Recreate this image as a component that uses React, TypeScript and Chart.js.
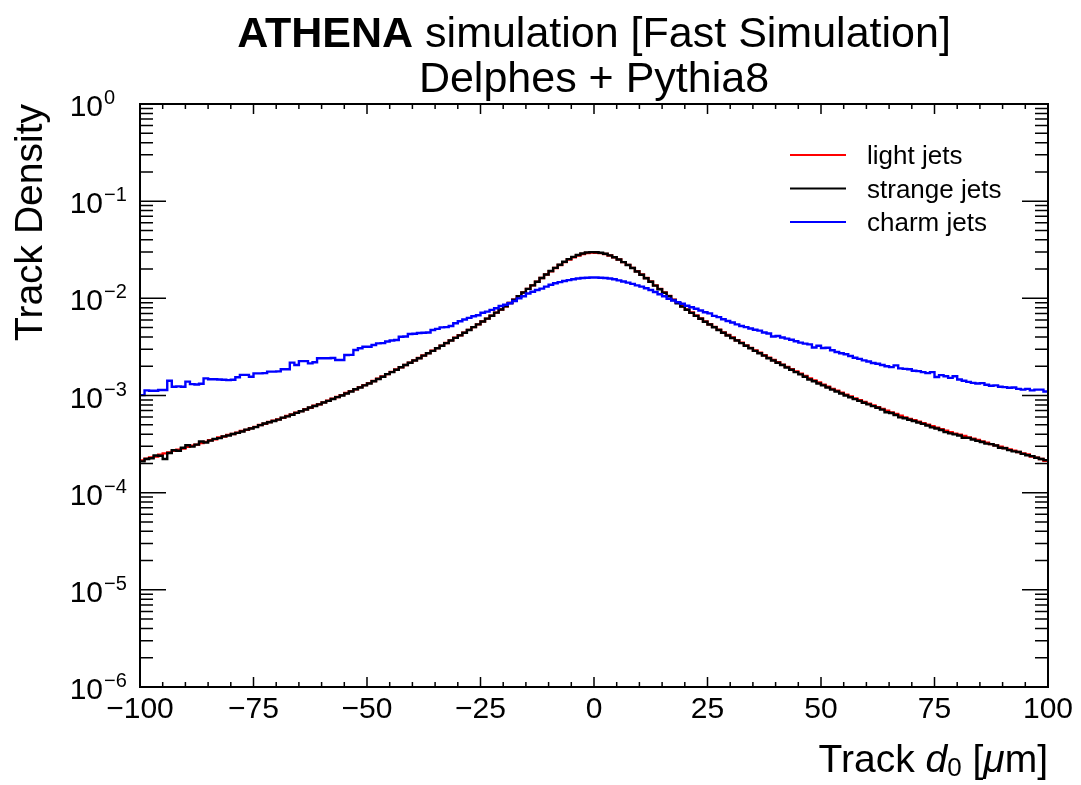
import { useEffect, useRef } from 'react';
import { Chart, registerables } from 'chart.js';

Chart.register(...registerables);

// Histogram binning: 200 bins of 1 µm between -100 and 100 µm
const X_MIN = -100;
const X_MAX = 100;
const BIN_WIDTH = 1;
const Y_MIN = 1e-6;
const Y_MAX = 1;

const X_MAJOR_TICKS = [-100, -75, -50, -25, 0, 25, 50, 75, 100];
const X_TICK_LABELS = ['\u2212100', '\u221275', '\u221250', '\u221225', '0', '25', '50', '75', '100'];
const X_MINOR_STEP = 5;
const Y_DECADES = [0, -1, -2, -3, -4, -5, -6];
const Y_DECADE_LABELS = ['0', '\u22121', '\u22122', '\u22123', '\u22124', '\u22125', '\u22126'];

const TITLE_BOLD = 'ATHENA';
const TITLE_REST = ' simulation [Fast Simulation]';
const SUBTITLE = 'Delphes + Pythia8';
const Y_TITLE = 'Track Density';

const SERIES_NAMES = ['light jets', 'strange jets', 'charm jets'];
const SERIES_COLORS = ['#ff0000', '#000000', '#0000ff'];

// Track density per bin, from d0 = -99.5 µm to +99.5 µm (bin centres)
const LIGHT_JETS = [
  2.15e-4, 2.24e-4, 2.31e-4, 2.36e-4, 2.46e-4, 2.54e-4, 2.59e-4, 2.69e-4, 2.77e-4, 2.84e-4,
  2.96e-4, 3.05e-4, 3.12e-4, 3.25e-4, 3.33e-4, 3.46e-4, 3.55e-4, 3.69e-4, 3.78e-4, 3.93e-4,
  4.02e-4, 4.13e-4, 4.31e-4, 4.43e-4, 4.62e-4, 4.76e-4, 4.97e-4, 5.12e-4, 5.34e-4, 5.50e-4,
  5.68e-4, 5.88e-4, 6.15e-4, 6.37e-4, 6.66e-4, 6.90e-4, 7.22e-4, 7.49e-4, 7.83e-4, 8.12e-4,
  8.50e-4, 8.84e-4, 9.27e-4, 9.64e-4, 1.01e-3, 1.06e-3, 1.11e-3, 1.16e-3, 1.22e-3, 1.28e-3,
  1.34e-3, 1.41e-3, 1.49e-3, 1.57e-3, 1.66e-3, 1.75e-3, 1.85e-3, 1.95e-3, 2.06e-3, 2.18e-3,
  2.30e-3, 2.43e-3, 2.58e-3, 2.73e-3, 2.89e-3, 3.07e-3, 3.26e-3, 3.47e-3, 3.69e-3, 3.93e-3,
  4.17e-3, 4.44e-3, 4.74e-3, 5.06e-3, 5.40e-3, 5.77e-3, 6.18e-3, 6.63e-3, 7.12e-3, 7.67e-3,
  8.27e-3, 8.95e-3, 9.68e-3, 1.05e-2, 1.15e-2, 1.25e-2, 1.36e-2, 1.48e-2, 1.62e-2, 1.76e-2,
  1.90e-2, 2.05e-2, 2.20e-2, 2.36e-2, 2.51e-2, 2.64e-2, 2.76e-2, 2.86e-2, 2.93e-2, 2.96e-2,
  2.95e-2, 2.92e-2, 2.86e-2, 2.76e-2, 2.64e-2, 2.51e-2, 2.36e-2, 2.21e-2, 2.06e-2, 1.90e-2,
  1.76e-2, 1.62e-2, 1.49e-2, 1.36e-2, 1.25e-2, 1.15e-2, 1.06e-2, 9.70e-3, 8.97e-3, 8.29e-3,
  7.69e-3, 7.14e-3, 6.65e-3, 6.20e-3, 5.79e-3, 5.42e-3, 5.08e-3, 4.76e-3, 4.46e-3, 4.19e-3,
  3.95e-3, 3.71e-3, 3.49e-3, 3.28e-3, 3.09e-3, 2.91e-3, 2.75e-3, 2.60e-3, 2.45e-3, 2.32e-3,
  2.20e-3, 2.08e-3, 1.97e-3, 1.87e-3, 1.77e-3, 1.68e-3, 1.59e-3, 1.50e-3, 1.43e-3, 1.36e-3,
  1.29e-3, 1.23e-3, 1.17e-3, 1.12e-3, 1.07e-3, 1.02e-3, 9.76e-4, 9.34e-4, 8.95e-4, 8.57e-4,
  8.23e-4, 7.90e-4, 7.58e-4, 7.28e-4, 6.99e-4, 6.71e-4, 6.45e-4, 6.20e-4, 5.96e-4, 5.73e-4,
  5.56e-4, 5.37e-4, 5.18e-4, 5.00e-4, 4.82e-4, 4.65e-4, 4.49e-4, 4.34e-4, 4.19e-4, 4.04e-4,
  3.95e-4, 3.83e-4, 3.71e-4, 3.60e-4, 3.48e-4, 3.37e-4, 3.26e-4, 3.16e-4, 3.07e-4, 2.97e-4,
  2.88e-4, 2.79e-4, 2.70e-4, 2.62e-4, 2.54e-4, 2.47e-4, 2.36e-4, 2.29e-4, 2.22e-4, 2.13e-4,
];

const STRANGE_JETS = [
  2.10e-4, 2.22e-4, 2.26e-4, 2.41e-4, 2.40e-4, 2.22e-4, 2.56e-4, 2.73e-4, 2.70e-4, 2.90e-4,
  3.08e-4, 2.98e-4, 3.12e-4, 3.36e-4, 3.28e-4, 3.43e-4, 3.58e-4, 3.64e-4, 3.80e-4, 3.87e-4,
  4.01e-4, 4.12e-4, 4.26e-4, 4.45e-4, 4.58e-4, 4.73e-4, 4.95e-4, 5.15e-4, 5.30e-4, 5.47e-4,
  5.65e-4, 5.92e-4, 6.10e-4, 6.33e-4, 6.62e-4, 6.88e-4, 7.17e-4, 7.52e-4, 7.79e-4, 8.10e-4,
  8.46e-4, 8.80e-4, 9.20e-4, 9.62e-4, 1.00e-3, 1.05e-3, 1.10e-3, 1.16e-3, 1.21e-3, 1.27e-3,
  1.33e-3, 1.40e-3, 1.48e-3, 1.56e-3, 1.66e-3, 1.74e-3, 1.84e-3, 1.95e-3, 2.06e-3, 2.17e-3,
  2.29e-3, 2.42e-3, 2.57e-3, 2.72e-3, 2.88e-3, 3.06e-3, 3.25e-3, 3.46e-3, 3.68e-3, 3.92e-3,
  4.16e-3, 4.43e-3, 4.73e-3, 5.05e-3, 5.39e-3, 5.77e-3, 6.18e-3, 6.63e-3, 7.12e-3, 7.67e-3,
  8.27e-3, 8.96e-3, 9.70e-3, 1.05e-2, 1.15e-2, 1.25e-2, 1.36e-2, 1.48e-2, 1.62e-2, 1.76e-2,
  1.91e-2, 2.06e-2, 2.22e-2, 2.38e-2, 2.53e-2, 2.67e-2, 2.79e-2, 2.89e-2, 2.96e-2, 2.99e-2,
  2.98e-2, 2.95e-2, 2.88e-2, 2.77e-2, 2.65e-2, 2.51e-2, 2.36e-2, 2.20e-2, 2.05e-2, 1.89e-2,
  1.75e-2, 1.61e-2, 1.48e-2, 1.35e-2, 1.24e-2, 1.14e-2, 1.05e-2, 9.62e-3, 8.90e-3, 8.22e-3,
  7.63e-3, 7.09e-3, 6.60e-3, 6.16e-3, 5.75e-3, 5.38e-3, 5.04e-3, 4.72e-3, 4.42e-3, 4.15e-3,
  3.91e-3, 3.68e-3, 3.46e-3, 3.25e-3, 3.06e-3, 2.88e-3, 2.72e-3, 2.57e-3, 2.42e-3, 2.29e-3,
  2.17e-3, 2.06e-3, 1.94e-3, 1.84e-3, 1.74e-3, 1.65e-3, 1.56e-3, 1.46e-3, 1.40e-3, 1.33e-3,
  1.27e-3, 1.21e-3, 1.15e-3, 1.10e-3, 1.05e-3, 1.00e-3, 9.60e-4, 9.18e-4, 8.80e-4, 8.43e-4,
  8.10e-4, 7.78e-4, 7.47e-4, 7.16e-4, 6.72e-4, 6.60e-4, 6.30e-4, 5.95e-4, 5.84e-4, 5.62e-4,
  5.47e-4, 5.28e-4, 5.10e-4, 4.92e-4, 4.70e-4, 4.57e-4, 4.41e-4, 4.20e-4, 4.08e-4, 3.98e-4,
  3.88e-4, 3.68e-4, 3.66e-4, 3.52e-4, 3.41e-4, 3.32e-4, 3.20e-4, 3.16e-4, 3.06e-4, 2.90e-4,
  2.86e-4, 2.74e-4, 2.66e-4, 2.62e-4, 2.51e-4, 2.43e-4, 2.38e-4, 2.29e-4, 2.22e-4, 2.16e-4,
];

const CHARM_JETS = [
  1.01e-3, 1.13e-3, 1.12e-3, 1.12e-3, 1.14e-3, 1.14e-3, 1.42e-3, 1.23e-3, 1.24e-3, 1.23e-3,
  1.39e-3, 1.31e-3, 1.30e-3, 1.32e-3, 1.50e-3, 1.47e-3, 1.47e-3, 1.46e-3, 1.45e-3, 1.44e-3,
  1.45e-3, 1.54e-3, 1.63e-3, 1.63e-3, 1.56e-3, 1.69e-3, 1.69e-3, 1.70e-3, 1.76e-3, 1.76e-3,
  1.77e-3, 1.86e-3, 1.86e-3, 2.18e-3, 2.06e-3, 2.26e-3, 2.26e-3, 2.14e-3, 2.20e-3, 2.42e-3,
  2.42e-3, 2.42e-3, 2.43e-3, 2.32e-3, 2.32e-3, 2.61e-3, 2.62e-3, 2.94e-3, 3.06e-3, 3.18e-3,
  3.18e-3, 3.31e-3, 3.44e-3, 3.46e-3, 3.60e-3, 3.68e-3, 3.73e-3, 4.03e-3, 4.05e-3, 4.30e-3,
  4.32e-3, 4.40e-3, 4.43e-3, 4.45e-3, 4.72e-3, 4.85e-3, 5.03e-3, 5.05e-3, 5.19e-3, 5.55e-3,
  5.80e-3, 6.05e-3, 6.30e-3, 6.55e-3, 6.70e-3, 7.10e-3, 7.30e-3, 7.60e-3, 7.90e-3, 8.35e-3,
  8.60e-3, 8.90e-3, 9.40e-3, 1.00e-2, 1.05e-2, 1.12e-2, 1.17e-2, 1.22e-2, 1.26e-2, 1.32e-2,
  1.38e-2, 1.43e-2, 1.47e-2, 1.51e-2, 1.54e-2, 1.57e-2, 1.60e-2, 1.62e-2, 1.63e-2, 1.64e-2,
  1.64e-2, 1.63e-2, 1.62e-2, 1.60e-2, 1.57e-2, 1.53e-2, 1.49e-2, 1.45e-2, 1.41e-2, 1.36e-2,
  1.32e-2, 1.27e-2, 1.22e-2, 1.16e-2, 1.10e-2, 1.05e-2, 9.90e-3, 9.50e-3, 9.10e-3, 8.80e-3,
  8.40e-3, 8.10e-3, 7.80e-3, 7.50e-3, 7.20e-3, 7.00e-3, 6.60e-3, 6.40e-3, 6.10e-3, 5.85e-3,
  5.65e-3, 5.40e-3, 5.20e-3, 5.05e-3, 4.90e-3, 4.75e-3, 4.65e-3, 4.45e-3, 4.35e-3, 4.05e-3,
  4.10e-3, 3.95e-3, 3.85e-3, 3.75e-3, 3.62e-3, 3.50e-3, 3.42e-3, 3.36e-3, 3.12e-3, 3.25e-3,
  3.08e-3, 3.10e-3, 2.92e-3, 2.80e-3, 2.72e-3, 2.66e-3, 2.55e-3, 2.45e-3, 2.38e-3, 2.30e-3,
  2.24e-3, 2.16e-3, 2.12e-3, 2.06e-3, 2.00e-3, 1.96e-3, 2.04e-3, 1.90e-3, 1.88e-3, 1.86e-3,
  1.80e-3, 1.78e-3, 1.74e-3, 1.70e-3, 1.74e-3, 1.55e-3, 1.62e-3, 1.58e-3, 1.52e-3, 1.58e-3,
  1.46e-3, 1.42e-3, 1.38e-3, 1.35e-3, 1.33e-3, 1.34e-3, 1.29e-3, 1.26e-3, 1.27e-3, 1.23e-3,
  1.22e-3, 1.20e-3, 1.21e-3, 1.17e-3, 1.15e-3, 1.17e-3, 1.13e-3, 1.15e-3, 1.15e-3, 1.10e-3,
];

const SERIES_VALUES = [LIGHT_JETS, STRANGE_JETS, CHARM_JETS];

const FONT = '"Liberation Sans", Arial, Helvetica, sans-serif';
const W = 1081;
const H = 785;

// Step-histogram points: one point on each bin's low edge, plus the closing edge
function histogramPoints(values: number[]) {
  const pts = values.map((v, i) => ({ x: X_MIN + i * BIN_WIDTH, y: v }));
  pts.push({ x: X_MAX, y: values[values.length - 1] });
  return pts;
}

const rootFrame = {
  id: 'rootFrame',
  beforeDraw(chart: any) {
    const { ctx } = chart;
    ctx.save();
    ctx.fillStyle = '#ffffff';
    ctx.fillRect(0, 0, chart.width, chart.height);
    ctx.restore();
  },
  afterDraw(chart: any) {
    const { ctx, chartArea: a, scales } = chart;
    const xs = scales.x;
    const ys = scales.y;
    ctx.save();
    ctx.strokeStyle = '#000000';
    ctx.fillStyle = '#000000';

    // x ticks, bottom and top, pointing inwards
    ctx.lineWidth = 1.5;
    ctx.beginPath();
    for (let v = X_MIN; v <= X_MAX; v += X_MINOR_STEP) {
      const px = xs.getPixelForValue(v);
      const len = X_MAJOR_TICKS.includes(v) ? 10 : 5;
      ctx.moveTo(px, a.bottom);
      ctx.lineTo(px, a.bottom - len);
      ctx.moveTo(px, a.top);
      ctx.lineTo(px, a.top + len);
    }
    // y ticks, left and right
    for (const e of Y_DECADES) {
      const py = ys.getPixelForValue(Math.pow(10, e));
      ctx.moveTo(a.left, py);
      ctx.lineTo(a.left + 26, py);
      ctx.moveTo(a.right, py);
      ctx.lineTo(a.right - 26, py);
      if (e < 0) {
        for (let m = 2; m <= 9; m++) {
          const pm = ys.getPixelForValue(m * Math.pow(10, e));
          ctx.moveTo(a.left, pm);
          ctx.lineTo(a.left + 13, pm);
          ctx.moveTo(a.right, pm);
          ctx.lineTo(a.right - 13, pm);
        }
      }
    }
    ctx.stroke();

    // frame
    ctx.lineWidth = 2;
    ctx.strokeRect(a.left, a.top, a.right - a.left, a.bottom - a.top);

    // x tick labels
    ctx.font = `30px ${FONT}`;
    ctx.textAlign = 'center';
    ctx.textBaseline = 'alphabetic';
    X_MAJOR_TICKS.forEach((v, i) => {
      ctx.fillText(X_TICK_LABELS[i], xs.getPixelForValue(v), a.bottom + 31);
    });

    // y tick labels: 10 with a superscript exponent
    Y_DECADES.forEach((e, i) => {
      const py = ys.getPixelForValue(Math.pow(10, e));
      ctx.font = `30px ${FONT}`;
      ctx.textAlign = 'right';
      ctx.fillText('10', 103, py + 12);
      ctx.font = `20px ${FONT}`;
      ctx.textAlign = 'left';
      ctx.fillText(Y_DECADE_LABELS[i], 104, py);
    });

    // title, two centred lines
    const cx = (a.left + a.right) / 2;
    ctx.textAlign = 'left';
    ctx.font = `bold 43px ${FONT}`;
    const wBold = ctx.measureText(TITLE_BOLD).width;
    ctx.font = `43px ${FONT}`;
    const wRest = ctx.measureText(TITLE_REST).width;
    const tx = cx - (wBold + wRest) / 2;
    ctx.font = `bold 43px ${FONT}`;
    ctx.fillText(TITLE_BOLD, tx, 47);
    ctx.font = `43px ${FONT}`;
    ctx.fillText(TITLE_REST, tx + wBold, 47);
    ctx.textAlign = 'center';
    ctx.fillText(SUBTITLE, cx, 92);

    // x axis title: Track d0 [µm], right-aligned to the axis end
    const parts = [
      { t: 'Track ', f: `39px ${FONT}`, dy: 0 },
      { t: 'd', f: `italic 39px ${FONT}`, dy: 0 },
      { t: '0', f: `26px ${FONT}`, dy: 4 },
      { t: ' [', f: `39px ${FONT}`, dy: 0 },
      { t: '\u03bc', f: `italic 39px ${FONT}`, dy: 0 },
      { t: 'm]', f: `39px ${FONT}`, dy: 0 },
    ];
    let total = 0;
    for (const p of parts) {
      ctx.font = p.f;
      total += ctx.measureText(p.t).width;
    }
    ctx.textAlign = 'left';
    let px = a.right - total;
    for (const p of parts) {
      ctx.font = p.f;
      ctx.fillText(p.t, px, 772 + p.dy);
      px += ctx.measureText(p.t).width;
    }

    // y axis title, rotated, aligned to the top of the axis
    ctx.save();
    ctx.translate(42, a.top);
    ctx.rotate(-Math.PI / 2);
    ctx.font = `39px ${FONT}`;
    ctx.textAlign = 'right';
    ctx.fillText(Y_TITLE, 0, 0);
    ctx.restore();

    // legend
    const legendY = [155, 188.5, 222];
    ctx.font = `26px ${FONT}`;
    ctx.textAlign = 'left';
    SERIES_NAMES.forEach((name, i) => {
      ctx.strokeStyle = SERIES_COLORS[i];
      ctx.lineWidth = 2;
      ctx.beginPath();
      ctx.moveTo(790, legendY[i]);
      ctx.lineTo(846, legendY[i]);
      ctx.stroke();
      ctx.fillStyle = '#000000';
      ctx.fillText(name, 867, legendY[i] + 9);
    });

    ctx.restore();
  },
};

export default function App() {
  const canvasRef = useRef<HTMLCanvasElement | null>(null);

  useEffect(() => {
    const canvas = canvasRef.current;
    if (!canvas) return;
    const drawOrder = [3, 2, 1];
    const chart = new Chart(canvas, {
      type: 'line',
      data: {
        datasets: SERIES_NAMES.map((name, i) => ({
          label: name,
          data: histogramPoints(SERIES_VALUES[i]),
          borderColor: SERIES_COLORS[i],
          borderWidth: 2.4,
          stepped: 'before' as const,
          pointRadius: 0,
          fill: false,
          order: drawOrder[i],
        })),
      },
      options: {
        responsive: false,
        animation: false,
        devicePixelRatio: 1,
        parsing: false as any,
        layout: { padding: { left: 140, top: 104, right: W - 1048, bottom: H - 687 } },
        scales: {
          x: { type: 'linear', min: X_MIN, max: X_MAX, display: false },
          y: { type: 'logarithmic', min: Y_MIN, max: Y_MAX, display: false },
        },
        plugins: {
          legend: { display: false },
          tooltip: { enabled: false },
          title: { display: false },
        },
      },
      plugins: [rootFrame],
    });
    return () => chart.destroy();
  }, []);

  return (
    <div style={{ position: 'fixed', left: 0, top: 0, width: W, height: H, background: '#fff' }}>
      <canvas ref={canvasRef} width={W} height={H} style={{ width: W, height: H, display: 'block' }} />
    </div>
  );
}
